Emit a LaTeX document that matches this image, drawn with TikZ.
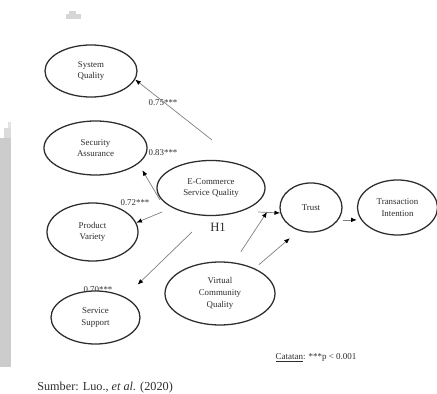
\documentclass[tikz,border=0pt]{standalone}
\usepackage{fontspec}
\setmainfont{Liberation Serif}
\usetikzlibrary{shapes.geometric,arrows.meta}
\definecolor{inkGray}{RGB}{45,45,45}
\definecolor{linkGray}{RGB}{128,128,128}
\definecolor{scanGray}{RGB}{204,204,204}

\begin{document}
\begin{tikzpicture}[x=0.025cm,y=-0.025cm]
\tikzstyle{every node}=[text=inkGray, font=\fontsize{6.3}{8.3}\selectfont]
\tikzstyle{construct}=[ellipse, align=center, draw=inkGray, line width=0.9pt, fill=white, inner sep=1pt]
\tikzstyle{link}=[draw=linkGray, line width=0.5pt, -{Latex[length=4pt,width=3.2pt,color=black]}]

  \useasboundingbox (0,0) rectangle (437,394);

  % scan marks
  \fill[scanGray] (0,138) rectangle (11,367);
  \fill[scanGray!70] (4,128) rectangle (11,138);
  \fill[scanGray!55] (8,122) rectangle (11,128);
  \fill[scanGray!80] (66,14) rectangle (81,19);
  \fill[scanGray!80] (69,11) rectangle (76,14);

  % this one sits under the ellipse
  \node (l70) at (98,290) {0.70***};

  \node[construct, minimum width=2.3cm, minimum height=1.3cm] (sysq) at (91,71) {System\\Quality};
  \node[construct, minimum width=2.575cm, minimum height=1.35cm] (secu) at (95.5,148) {Security\\Assurance};
  \node[construct, minimum width=2.275cm, minimum height=1.45cm] (prod) at (92.5,232) {Product\\Variety};
  \node[construct, minimum width=2.225cm, minimum height=1.325cm] (serv) at (95.5,317.5) {Service\\Support};
  \node[construct, minimum width=2.7cm, minimum height=1.375cm] (ecom) at (211,188) {E-Commerce\\Service Quality};
  \node[construct, minimum width=2.75cm, minimum height=1.575cm] (vcq) at (220,293.5) {Virtual\\Community\\Quality};
  \node[construct, minimum width=1.55cm, minimum height=1.225cm] (trust) at (311,207.5) {Trust};
  \node[construct, minimum width=2cm, minimum height=1.375cm] (trans) at (397.5,207.5) {Transaction\\Intention};

  \node (l75) at (163,103) {0.75***};
  \node (l83) at (163,153) {0.83***};
  \node (l72) at (135,203) {0.72***};
  \node[font=\fontsize{9}{10}\selectfont] (h1) at (218,227) {H1};

  \coordinate (s75) at (212,140);
  \coordinate (s83) at (160,200);
  \coordinate (s72) at (162,212);
  \coordinate (s70) at (192,232);
  \coordinate (sTrust) at (258,212);
  \coordinate (h1end) at (267,212);

  \draw[link] (s75) -- (sysq.-11);
  \draw[link, shorten >=0.19cm] (s83) -- (secu.-20);
  \draw[link] (s72) -- (prod.12);
  \draw[link, shorten >=0.44cm] (s70) -- (serv.35);
  \draw[link] (sTrust) -- (trust.190);
  \draw[link, shorten <=0.32cm] (vcq.66) -- (h1end);
  \draw[link, shorten <=0.14cm, shorten >=0.29cm] (vcq.36) -- (trust.242);
  \draw[link] ([yshift=-0.31cm]trust.east) -- ([yshift=-0.31cm]trans.west);

  \node[font=\fontsize{6.4}{8}\selectfont] (note) at (316,358) {\underline{Catatan}: ***p < 0.001};
  \node[anchor=west, inner sep=0pt, font=\fontsize{8.7}{10}\selectfont] (src) at (37,388) {Sumber: Luo., \textit{et al.} (2020)};

\end{tikzpicture}
\end{document}
